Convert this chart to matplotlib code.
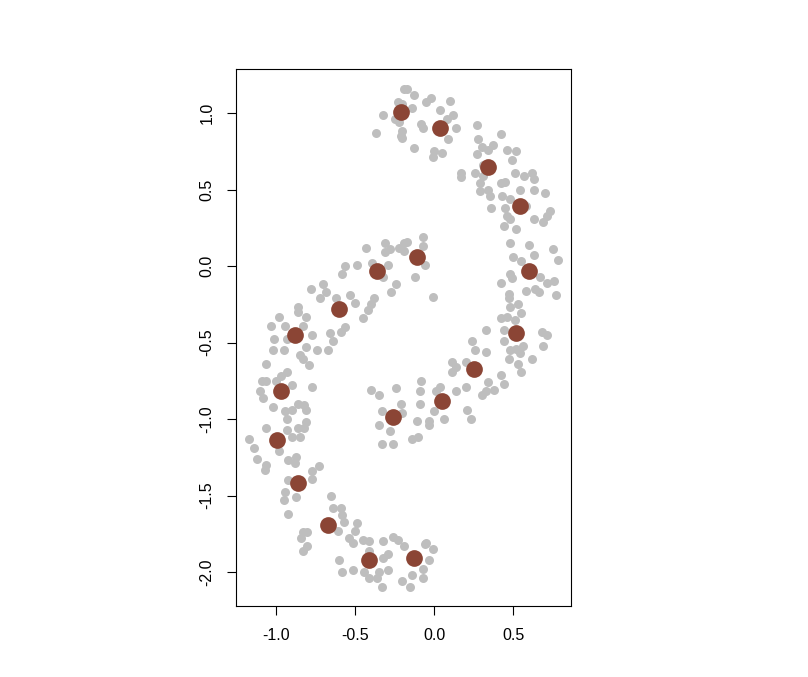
import matplotlib.pyplot as plt
import numpy as np

plt.rcParams['font.family'] = ['Liberation Sans', 'DejaVu Sans']

# grey data points (x, y)
gray_x = [
    -0.19, -0.23, -0.32, -0.25, -0.22, -0.37, -0.21, -0.43, -0.31, -0.22, -0.19,
    -0.17, -0.13, -0.05, -0.02, -0.14, -0.20, 0.10, 0.04, 0.12, 0.08, -0.08, -0.07,
    -0.20, -0.20, 0.14, 0.09, 0.27, 0.42, 0.28, 0.30, 0.34, 0.37, 0.46, 0.52, 0.27,
    -0.13, 0.00, 0.05, -0.01, 0.49, 0.17, 0.17, 0.26, 0.31, 0.31, 0.51, 0.57, 0.62,
    0.63, 0.29, 0.29, 0.34, 0.35, 0.42, 0.45, 0.43, 0.48, 0.54, 0.63, 0.70, 0.36,
    0.45, 0.58, 0.46, 0.48, 0.44, 0.52, 0.63, 0.69, 0.73, 0.71, -0.17, -0.07, -0.07,
    0.48, 0.60, 0.75,
    -0.31, -0.28, -0.29, -0.39, -0.49, -0.56, -0.58, -0.32, -0.24, -0.27, -0.70,
    -0.78, -0.68, -0.72, -0.62, -0.53, -0.50, -0.38, -0.40, -0.42, -0.86, -0.86,
    -0.81, -0.98, -1.03, -0.94, -0.83, -0.45, -0.56, -0.59, -0.66, -0.64, -0.77,
    -1.01, -0.93, -0.81, -0.74, -0.67, -1.02, -0.95, -0.85, -0.83, -0.79, -1.06,
    -0.93, -0.97, -1.09, -1.06, -1.00, -0.90, -0.77, -1.10, -1.08, -1.02, -0.86,
    -0.82, -0.94, -0.90, -0.81, -0.93, -0.81, -1.06, -0.86, -0.40, -0.35, -0.24,
    -0.21, -0.33, -0.35,
    -0.19, -0.06, -0.12, -0.01, 0.63, 0.50, 0.55, 0.78, 0.48, 0.49, 0.42, 0.67,
    0.71, 0.76, 0.58, 0.64, 0.66, 0.77, 0.47, 0.47, 0.48, 0.53, 0.55, 0.42, 0.46,
    0.51, 0.33, 0.44, 0.44, 0.68, 0.71, 0.69, 0.24, 0.26, 0.33, 0.48, 0.52, 0.56,
    0.54, 0.47, 0.53, 0.62, 0.55, 0.11, 0.11, 0.20, 0.14, 0.42, 0.34, 0.44, 0.38,
    0.33, 0.30, 0.20, 0.14, 0.04, 0.01, -0.08, -0.09, -0.09, 0.00, 0.21, 0.23,
    -0.11, -0.03, 0.06, -0.20,
    -0.93, -0.82, -0.90, -0.85, -1.17, -1.14, -1.12, -1.06, -1.07, -0.98, -0.92,
    -0.87, -0.88, -0.73, -0.77, -0.77, -0.92, -0.94, -0.95, -0.87, -0.92, -0.65,
    -0.64, -0.59, -0.58, -0.57, -0.49, -0.50, -0.61, -0.83, -0.80, -0.84, -0.80,
    -0.83, -0.54, -0.51, -0.45, -0.41, -0.32, -0.26, -0.23, -0.19, -0.41, -0.29,
    -0.32, -0.60, -0.58, -0.51, -0.44, -0.41, -0.36, -0.35, -0.29, -0.33, -0.20,
    -0.28, -0.33, -0.26,
    -0.14, -0.10, -0.03, -0.06, -0.01, -0.05, -0.03, -0.07, -0.14, -0.07, -0.15,
]
gray_y = [
    1.16, 1.07, 0.99, 0.96, 0.94, 0.87, 0.85, 0.12, 0.15, 0.12, 0.15,
    1.16, 1.12, 1.07, 1.10, 1.03, 1.06, 1.08, 1.02, 0.99, 0.96, 0.93, 0.90,
    0.88, 0.84, 0.90, 0.83, 0.92, 0.86, 0.83, 0.78, 0.76, 0.79, 0.76, 0.75, 0.73,
    0.77, 0.75, 0.74, 0.71, 0.69, 0.61, 0.58, 0.61, 0.66, 0.59, 0.61, 0.59, 0.61,
    0.57, 0.54, 0.49, 0.50, 0.46, 0.54, 0.55, 0.46, 0.44, 0.50, 0.50, 0.48, 0.38,
    0.38, 0.39, 0.33, 0.31, 0.26, 0.24, 0.31, 0.29, 0.36, 0.33, 0.16, 0.19, 0.13,
    0.15, 0.14, 0.11,
    0.09, 0.11, 0.01, 0.02, 0.01, 0.00, -0.05, -0.07, -0.12, -0.17, -0.12,
    -0.15, -0.17, -0.21, -0.21, -0.19, -0.24, -0.21, -0.25, -0.29, -0.27, -0.30,
    -0.33, -0.33, -0.39, -0.39, -0.39, -0.34, -0.40, -0.43, -0.44, -0.49, -0.45,
    -0.48, -0.48, -0.53, -0.55, -0.55, -0.55, -0.55, -0.58, -0.61, -0.65, -0.64,
    -0.69, -0.72, -0.75, -0.75, -0.75, -0.78, -0.79, -0.82, -0.86, -0.92, -0.90,
    -0.91, -0.95, -0.94, -0.94, -1.00, -1.02, -1.06, -1.06, -0.81, -0.84, -0.80,
    -0.90, -0.95, -1.04,
    0.10, 0.01, -0.07, -0.20, 0.07, 0.06, 0.03, 0.04, -0.05, -0.08, -0.11, -0.07,
    -0.11, -0.10, -0.16, -0.15, -0.17, -0.19, -0.18, -0.21, -0.27, -0.25, -0.31,
    -0.34, -0.33, -0.35, -0.42, -0.42, -0.49, -0.43, -0.45, -0.52, -0.49, -0.55,
    -0.56, -0.55, -0.54, -0.52, -0.57, -0.61, -0.64, -0.61, -0.69, -0.63, -0.69,
    -0.63, -0.66, -0.71, -0.76, -0.77, -0.81, -0.82, -0.84, -0.79, -0.82, -0.79,
    -0.82, -0.75, -0.82, -0.90, -0.95, -0.94, -1.00, -1.01, -1.01, -1.00, -0.96,
    -1.07, -1.06, -1.12, -1.12, -1.13, -1.19, -1.26, -1.30, -1.33, -1.21, -1.27,
    -1.25, -1.29, -1.31, -1.34, -1.39, -1.40, -1.48, -1.53, -1.51, -1.62, -1.50,
    -1.58, -1.58, -1.63, -1.67, -1.68, -1.73, -1.73, -1.74, -1.74, -1.78, -1.83,
    -1.86, -1.78, -1.81, -1.79, -1.80, -1.80, -1.77, -1.79, -1.83, -1.86, -1.88,
    -1.91, -1.92, -2.00, -1.99, -2.00, -2.04, -2.04, -2.00, -1.99, -2.10, -2.06,
    -1.08, -1.16, -1.16,
    -1.13, -1.12, -1.04, -1.82, -1.85, -1.81, -1.92, -1.98, -2.02, -2.04, -2.10,
]

# brown centres
center_x = [-0.21, 0.04, 0.34, 0.54, 0.60, -0.11, -0.36, -0.60, -0.88, 0.52,
            0.25, -0.97, 0.05, -0.26, -0.99, -0.86, -0.67, -0.41, -0.13]
center_y = [1.01, 0.90, 0.65, 0.39, -0.03, 0.06, -0.03, -0.28, -0.45, -0.44,
            -0.67, -0.82, -0.88, -0.99, -1.14, -1.42, -1.69, -1.92, -1.91]

fig = plt.figure(figsize=(8.08, 6.77), dpi=100)
ax = fig.add_axes([0.292, 0.1049, 0.4146, 0.7932])

n = min(len(gray_x), len(gray_y))
ax.scatter(gray_x[:n], gray_y[:n], s=42, c='#BEBEBE', linewidths=0)
ax.scatter(center_x, center_y, s=145, c='#8B4535', linewidths=0)

ax.set_xlim(-1.252, 0.864)
ax.set_ylim(-2.222, 1.288)
ax.set_xticks([-1.0, -0.5, 0.0, 0.5])
ax.set_yticks([-2.0, -1.5, -1.0, -0.5, 0.0, 0.5, 1.0])
ax.set_xticklabels(['-1.0', '-0.5', '0.0', '0.5'])
ax.set_yticklabels(['-2.0', '-1.5', '-1.0', '-0.5', '0.0', '0.5', '1.0'],
                   rotation=90, va='center')
ax.tick_params(direction='out', length=6.5, width=0.8, labelsize=11.5, pad=9)
for sp in ax.spines.values():
    sp.set_linewidth(0.8)

fig.savefig('out.png', dpi=100)
